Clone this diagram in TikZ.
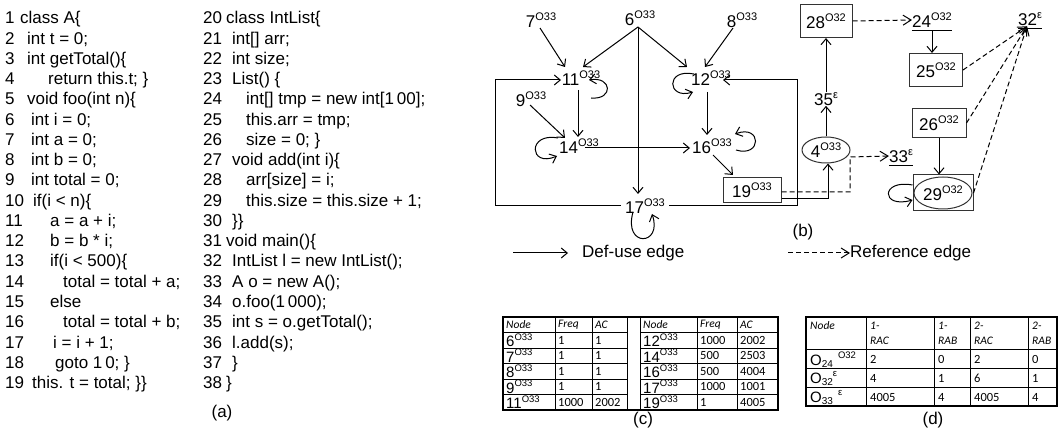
\documentclass[tikz,border=0pt]{standalone}
\usepackage{fontspec}
\setmainfont{Liberation Sans}
\newfontfamily\calfont{Carlito}
\usetikzlibrary{arrows.meta,calc,shapes.geometric}
\newcommand\spr[1]{\raisebox{0.42em}{\fontsize{11}{11}\selectfont #1}}
\newcommand\sprt[1]{\raisebox{0.45em}{\fontsize{9.5}{9.5}\selectfont #1}}
\newcommand\sbt[1]{\raisebox{-0.12em}{\fontsize{10}{10}\selectfont #1}}
\newcommand\codeln[6]{\node[code] (#1) at (#3,{24+(#2-1)*20.25}) {\makebox[#4pt][l]{#5}#6};}
\begin{document}
\begin{tikzpicture}[x=1pt,y=-1pt,
 code/.style={inner sep=0pt, font=\fontsize{17}{18}\selectfont, anchor=base west},
 lbl/.style={inner sep=0pt, font=\fontsize{17}{18}\selectfont},
 bx/.style={draw=black!80, line width=1pt, inner sep=0pt, font=\fontsize{17}{18}\selectfont},
 arr/.style={line width=1pt, -{Straight Barb[length=6pt,width=10pt]}},
 ref/.style={line width=1pt, dash pattern=on 5pt off 3pt, -{Straight Barb[length=8pt,width=10pt]}},
 tb/.style={inner sep=0pt, anchor=west, font=\calfont\fontsize{12.5}{12.5}\selectfont},
 th/.style={inner sep=0pt, anchor=west, font=\calfont\itshape\fontsize{11.5}{11.5}\selectfont},
 tl/.style={inner sep=0pt, anchor=west, font=\fontsize{15}{15}\selectfont},
 thin/.style={line width=0.7pt},
 thick/.style={line width=1.4pt}
]
\useasboundingbox (0,0) rectangle (1060,430);
% ---------- code (a)
\codeln{a1}{1}{5}{15}{1}{class A\{}
\codeln{a2}{2}{5}{22}{2}{int t = 0;}
\codeln{a3}{3}{5}{22}{3}{int getTotal()\{}
\codeln{a4}{4}{5}{43}{4}{return this.t; \}}
\codeln{a5}{5}{5}{22}{5}{void foo(int n)\{}
\codeln{a6}{6}{5}{26}{6}{int i = 0;}
\codeln{a7}{7}{5}{26}{7}{int a = 0;}
\codeln{a8}{8}{5}{26}{8}{int b = 0;}
\codeln{a9}{9}{5}{26}{9}{int total = 0;}
\codeln{a10}{10}{5}{28}{10}{if(i < n)\{}
\codeln{a11}{11}{5}{45}{11}{a = a + i;}
\codeln{a12}{12}{5}{45}{12}{b = b * i;}
\codeln{a13}{13}{5}{45}{13}{if(i < 500)\{}
\codeln{a14}{14}{5}{58}{14}{total = total + a;}
\codeln{a15}{15}{5}{45}{15}{else}
\codeln{a16}{16}{5}{58}{16}{total = total + b;}
\codeln{a17}{17}{5}{48}{17}{i = i + 1;}
\codeln{a18}{18}{5}{50}{18}{goto 1\,0; \}}
\codeln{a19}{19}{5}{27}{19}{this. t = total; \}\}}
\codeln{b20}{1}{203}{23}{20}{class IntList\{}
\codeln{b21}{2}{203}{29}{21}{int[] arr;}
\codeln{b22}{3}{203}{29}{22}{int size;}
\codeln{b23}{4}{203}{29}{23}{List() \{}
\codeln{b24}{5}{203}{43}{24}{int[] tmp = new int[1\,00];}
\codeln{b25}{6}{203}{43}{25}{this.arr = tmp;}
\codeln{b26}{7}{203}{43}{26}{size = 0; \}}
\codeln{b27}{8}{203}{29}{27}{void add(int i)\{}
\codeln{b28}{9}{203}{43}{28}{arr[size] = i;}
\codeln{b29}{10}{203}{43}{29}{this.size = this.size + 1;}
\codeln{b30}{11}{203}{29}{30}{\}\}}
\codeln{b31}{12}{203}{23}{31}{void main()\{}
\codeln{b32}{13}{203}{29}{32}{IntList l = new IntList();}
\codeln{b33}{14}{203}{29}{33}{A o = new A();}
\codeln{b34}{15}{203}{29}{34}{o.foo(1\,000);}
\codeln{b35}{16}{203}{29}{35}{int s = o.getTotal();}
\codeln{b36}{17}{203}{29}{36}{l.add(s);}
\codeln{b37}{18}{203}{29}{37}{\}}
\codeln{b38}{19}{203}{23}{38}{\}}
\node[lbl] (la) at (222,413) {(a)};
% ---------- graph (b)
\node[lbl] (n7) at (541,20) {7\spr{O33}};
\node[lbl] (n6) at (640,18) {6\spr{O33}};
\node[lbl] (n8) at (742,20) {8\spr{O33}};
\node[lbl] (n11) at (581,78) {11\spr{O33}};
\node[lbl] (n9) at (531,99) {9\spr{O33}};
\node[lbl] (n12) at (711,78) {12\spr{O33}};
\node[lbl] (n14) at (579,146) {14\spr{O33}};
\node[lbl] (n16) at (712,146) {16\spr{O33}};
\node[lbl,inner xsep=4pt] (n17) at (645,206) {17\spr{O33}};
\node[bx,minimum width=58pt,minimum height=25pt] (n19) at (752,190) {19\spr{O33}};
\node[draw=black!80,line width=1pt,ellipse,inner sep=0pt,minimum width=48pt,minimum height=26pt,font=\fontsize{17}{18}\selectfont] (n4) at (826,150) {4\spr{O33}};
\node[lbl] (n35) at (826,99) {35\spr{ε}};
\node[bx,minimum width=52pt,minimum height=33pt] (n28) at (826,21) {28\spr{O32}};
\node[lbl,inner ysep=2.5pt] (n24) at (932,20) {24\spr{O32}};
\node[bx,minimum width=53pt,minimum height=33pt] (n25) at (936,70) {25\spr{O32}};
\node[lbl,inner ysep=2.5pt] (n32) at (1030,19) {32\spr{ε}};
\node[bx,minimum width=54pt,minimum height=29pt] (n26) at (939,123) {26\spr{O32}};
\node[bx,minimum width=60pt,minimum height=36pt] (n29b) at (943,193) {};
\node[draw=black!80,line width=1pt,ellipse,inner sep=0pt,minimum width=58pt,minimum height=32pt,font=\fontsize{17}{18}\selectfont] (n29) at (943,193) {29\spr{O32}};
\node[lbl,inner ysep=2.5pt] (n33) at (901,156) {33\spr{ε}};
\draw[line width=1pt] (n24.south west) -- (n24.south east);
\draw[line width=1pt] (n32.south west) -- (n32.south east);
\draw[line width=1pt] (n33.south west) -- (n33.south east);
% def-use edges
\draw[arr] ($(n7)+(-1,8)$) -- ($(n11)+(-16,-11)$);
\draw[arr] ($(n6)+(-2,9)$) -- ($(n11)+(2,-11)$);
\draw[arr] ($(n6)+(-2,9)$) -- ($(n12)+(-24,-11)$);
\draw[arr] ($(n6)+(-2,9)$) -- ($(n17)+(-7,-12)$);
\draw[arr] ($(n8)+(-9,8)$) -- ($(n12)+(-6,-11)$);
\draw[arr] ($(n11)+(-3,12)$) -- ($(n14)+(-1,-9)$);
\draw[arr] ($(n9)+(-1,6)$) -- ($(n14)+(-14,-8)$);
\draw[arr] ($(n14)+(6,2)$) -- ($(n16)+(-22,2)$);
\draw[arr] ($(n12)+(-4,14)$) -- ($(n16)+(-5,-11)$);
\draw[arr] ($(n16)+(1,9)$) -- ($(n19)+(-19,-15)$);
\coordinate (cl) at (495,80);
\coordinate (cr) at (797,80);
\draw[arr] (n17.west) -| (cl) -- ($(n11)+(-20,2)$);
\draw[arr] (n17.east) -| (cr) -- ($(n12)+(12,2)$);
% self loops
\draw[arr] ($(n11)+(10,20)$) .. controls ($(n11)+(33,22)$) and ($(n11)+(31,-2)$) .. ($(n11)+(8,2)$);
\draw[arr] ($(n12)+(-17,-4)$) .. controls ($(n12)+(-46,-10)$) and ($(n12)+(-44,22)$) .. ($(n12)+(-18,14)$);
\draw[arr] ($(n14)+(-21,-8)$) .. controls ($(n14)+(-52,-14)$) and ($(n14)+(-50,22)$) .. ($(n14)+(-22,10)$);
\draw[arr] ($(n16)+(24,4)$) .. controls ($(n16)+(50,12)$) and ($(n16)+(50,-22)$) .. ($(n16)+(23,-12)$);
\draw[arr] ($(n17)+(-12,6)$) .. controls ($(n17)+(-22,42)$) and ($(n17)+(18,40)$) .. ($(n17)+(7,8)$);
\draw[arr] ($(n29b.west)+(0,-8)$) .. controls ($(n29b.west)+(-32,-14)$) and ($(n29b.west)+(-32,16)$) .. ($(n29b.west)+(0,7)$);
% right part
\coordinate (dk) at (850,157);
\draw[arr] ($(n19.east)+(0,9)$) -| ($(n4.south)+(2,0)$);
\draw[ref] ($(n19.east)+(0,2)$) -| (dk) -- (n33.west);
\draw[arr] (n4.north) -- (n35.south);
\draw[arr] (n35.north) -- (n28.south);
\draw[ref] (n28.east) -- (n24.west);
\draw[arr] (n24.south) -- (n24.south |- n25.north);
\draw[ref] (n25.east) -- ($(n32.south)+(-3,-2)$);
\draw[ref] (n26.east) -- ($(n32.south)+(-3,-2)$);
\draw[ref] (n29b.east) -- ($(n32.south)+(-3,-2)$);
\draw[arr] (n26.south) -- (n26.south |- n29b.north);
% legend
\node[lbl] (lb) at (803,232) {(b)};
\coordinate (ld1) at (513,253);
\node[lbl,anchor=west] (ldu) at (582,253) {Def-use edge};
\draw[arr] (ld1) -- ($(ldu.west)+(-14,0)$);
\coordinate (lr1) at (788,253);
\node[lbl,anchor=west] (lre) at (850,253) {Reference edge};
\draw[ref] (lr1) -- (lre.west);
% ---------- table (c)
\draw[thick] (503,317) rectangle (778,410);
\foreach \xx in {555,592,627,640,697,737} \draw[thin] (\xx,317) -- (\xx,410);
\foreach \yy in {332.5,348,363.5,379,394.5} {\draw[thin] (503,\yy) -- (627,\yy); \draw[thin] (640,\yy) -- (778,\yy);}
\node[th] (ch1) at (506,325) {Node};
\node[th] (ch2) at (558,325) {Freq};
\node[th] (ch3) at (595,325) {AC};
\node[th] (ch4) at (643,325) {Node};
\node[th] (ch5) at (700,325) {Freq};
\node[th] (ch6) at (740,325) {AC};
\foreach \pa/\pb/\pc/\pd/\pe/\pf [count=\r] in {6/1/1/12/1000/2002, 7/1/1/14/500/2503, 8/1/1/16/500/4004, 9/1/1/17/1000/1001, 11/1000/2002/19/1/4005} {
 \pgfmathsetmacro\yy{332.5+(\r-0.5)*15.5}
 \node[tl] (cl\r) at (506,\yy) {\pa\sprt{O33}};
 \node[tb] (cf\r) at (558,\yy) {\pb};
 \node[tb] (ca\r) at (595,\yy) {\pc};
 \node[tl] (cm\r) at (643,\yy) {\pd\sprt{O33}};
 \node[tb] (cg\r) at (700,\yy) {\pe};
 \node[tb] (cb\r) at (740,\yy) {\pf};
}
\node[lbl] (lc) at (643,420) {(c)};
% ---------- table (d)
\draw[thick] (806,317) rectangle (1057,406);
\foreach \xx in {866,934,970,1028} \draw[thin] (\xx,317) -- (\xx,406);
\foreach \yy in {349,368,387} \draw[thin] (806,\yy) -- (1057,\yy);
\node[th] (dh0) at (810,326) {Node};
\node[th] (dh1) at (870,326) {1-};
\node[th] (dh2) at (870,341) {RAC};
\node[th] (dh3) at (938,326) {1-};
\node[th] (dh4) at (938,341) {RAB};
\node[th] (dh5) at (974,326) {2-};
\node[th] (dh6) at (974,341) {RAC};
\node[th] (dh7) at (1032,326) {2-};
\node[th] (dh8) at (1032,341) {RAB};
\foreach \pa/\pb/\pc/\pd/\pe [count=\r] in {{O\sbt{24}\,\,\sprt{O32}}/2/0/2/0, {O\sbt{32}\sprt{ε}}/4/1/6/1, {O\sbt{33}\,\,\sprt{ε}}/4005/4/4005/4} {
 \pgfmathsetmacro\yy{349+(\r-0.5)*19+1}
 \node[tl] (dl\r) at (810,\yy) {\pa};
 \node[tb] (d1\r) at (870,\yy) {\pb};
 \node[tb] (d2\r) at (938,\yy) {\pc};
 \node[tb] (d3\r) at (974,\yy) {\pd};
 \node[tb] (d4\r) at (1032,\yy) {\pe};
}
\node[lbl] (ld) at (933,420) {(d)};
\end{tikzpicture}
\end{document}
